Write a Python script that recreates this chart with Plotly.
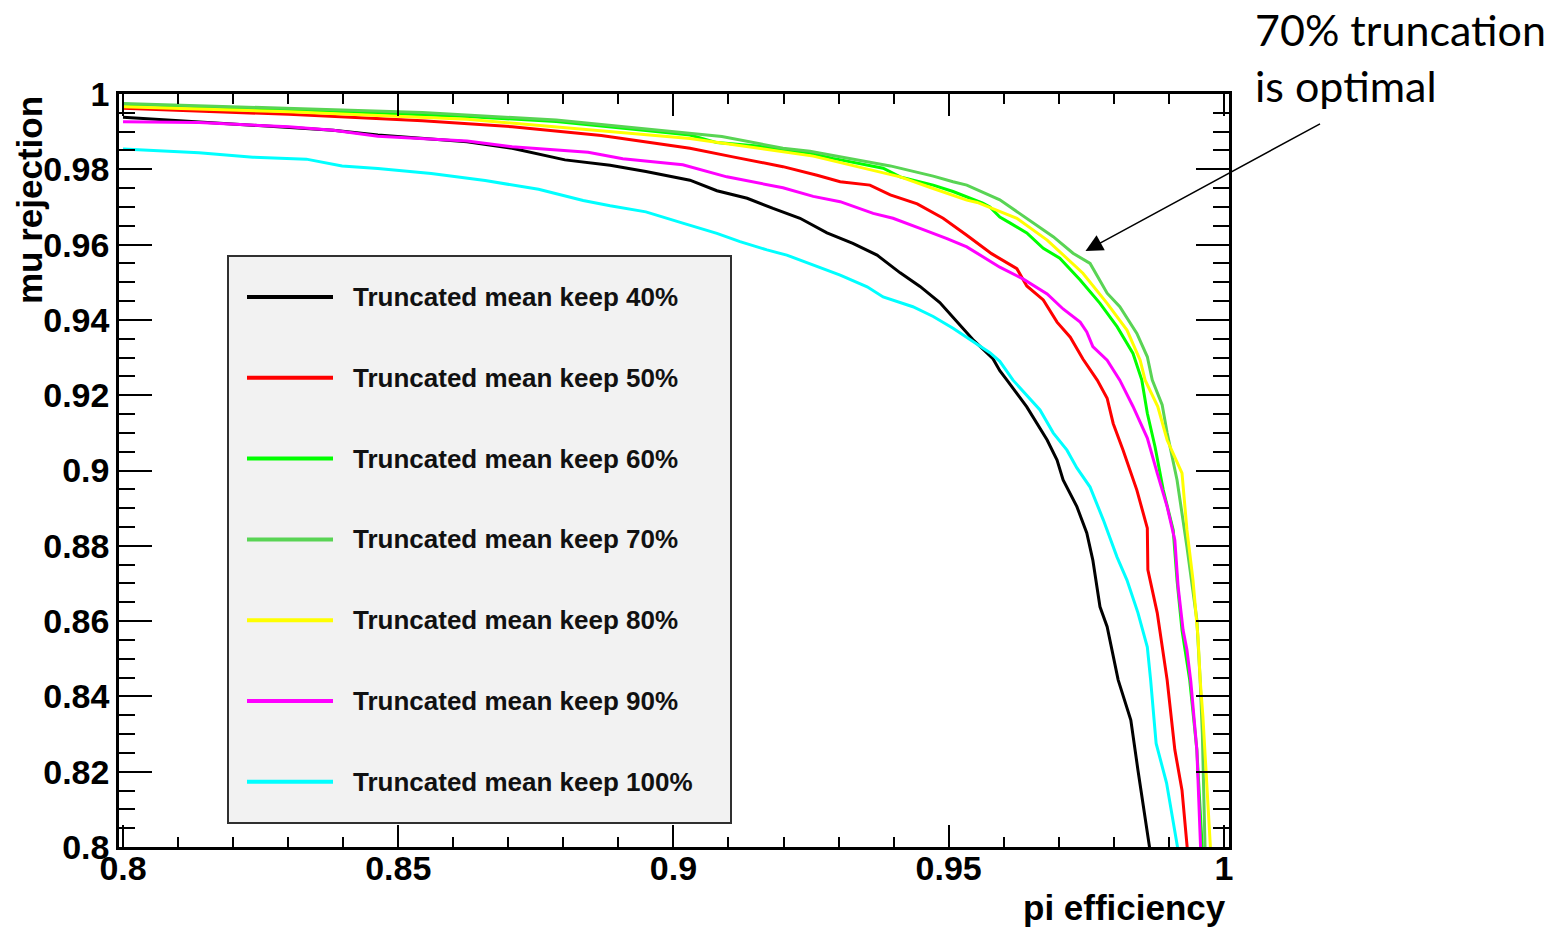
import plotly.graph_objects as go

# ---------------- data ----------------
x_40 = [0.8, 0.8220, 0.8382, 0.8463, 0.8625, 0.8707, 0.8803, 0.8885, 0.8950, 0.9030,
        0.9079, 0.9134, 0.9181, 0.9230, 0.9279, 0.9326, 0.9370, 0.9412, 0.9448, 0.9484,
        0.9515, 0.9544, 0.9580, 0.9593, 0.9606, 0.9642, 0.9679, 0.9697, 0.9708, 0.9733,
        0.9751, 0.9762, 0.9775, 0.9788, 0.9808, 0.9831, 0.9844, 0.9866]
y_40 = [0.9938, 0.9918, 0.9904, 0.9891, 0.9873, 0.9856, 0.9825, 0.9811, 0.9794, 0.9771,
        0.9743, 0.9723, 0.9696, 0.9670, 0.9631, 0.9603, 0.9572, 0.9525, 0.9489, 0.9446,
        0.9395, 0.9348, 0.9298, 0.9265, 0.9240, 0.9169, 0.9081, 0.9028, 0.8975, 0.8904,
        0.8834, 0.8762, 0.8638, 0.8585, 0.8444, 0.8337, 0.8204, 0.7990]

x_50 = [0.8, 0.8301, 0.8544, 0.8707, 0.8869, 0.8950, 0.9030, 0.9108, 0.9199, 0.9261,
        0.9303, 0.9357, 0.9394, 0.9443, 0.9490, 0.9533, 0.9578, 0.9624, 0.9642, 0.9672,
        0.9697, 0.9721, 0.9744, 0.9770, 0.9788, 0.9799, 0.9817, 0.9842, 0.9861, 0.9862,
        0.9879, 0.9897, 0.9902, 0.9911, 0.9924, 0.9934]
y_50 = [0.9962, 0.9946, 0.9929, 0.9913, 0.9890, 0.9873, 0.9856, 0.9833, 0.9807, 0.9784,
        0.9767, 0.9758, 0.9732, 0.9708, 0.9670, 0.9625, 0.9576, 0.9536, 0.9490, 0.9453,
        0.9394, 0.9354, 0.9296, 0.9240, 0.9192, 0.9125, 0.9054, 0.8948, 0.8847, 0.8736,
        0.8622, 0.8444, 0.8383, 0.8258, 0.8151, 0.7990]

x_60 = [0.8, 0.8301, 0.8625, 0.8787, 0.8950, 0.9030, 0.9079, 0.9152, 0.9199, 0.9248,
        0.9290, 0.9381, 0.9412, 0.9448, 0.9472, 0.9508, 0.9562, 0.9575, 0.9593, 0.9612,
        0.9642, 0.9672, 0.9702, 0.9739, 0.9775, 0.9806, 0.9835, 0.9851, 0.9861, 0.9875,
        0.9890, 0.9908, 0.9915, 0.9924, 0.9930, 0.9938, 0.9951, 0.9961]
y_60 = [0.9973, 0.9959, 0.9940, 0.9927, 0.9903, 0.9891, 0.9871, 0.9862, 0.9851, 0.9843,
        0.9829, 0.9803, 0.9780, 0.9767, 0.9758, 0.9741, 0.9710, 0.9700, 0.9673, 0.9657,
        0.9631, 0.9590, 0.9564, 0.9506, 0.9444, 0.9382, 0.9311, 0.9240, 0.9152, 0.9063,
        0.8948, 0.8842, 0.8709, 0.8576, 0.8523, 0.8444, 0.8258, 0.7990]

x_70 = [0.8, 0.8544, 0.8787, 0.9030, 0.9088, 0.9199, 0.9248, 0.9394, 0.9472, 0.9508,
        0.9533, 0.9593, 0.9642, 0.9690, 0.9726, 0.9757, 0.9788, 0.9811, 0.9842, 0.9861,
        0.9870, 0.9888, 0.9897, 0.9915, 0.9933, 0.9944, 0.9951, 0.9957, 0.9961, 0.9966]
y_70 = [0.9975, 0.9951, 0.9931, 0.9897, 0.9887, 0.9856, 0.9848, 0.9809, 0.9782, 0.9767,
        0.9758, 0.9719, 0.9670, 0.9621, 0.9577, 0.9550, 0.9471, 0.9435, 0.9364, 0.9302,
        0.9240, 0.9174, 0.9100, 0.8975, 0.8797, 0.8675, 0.8603, 0.8444, 0.8300, 0.7990]

x_80 = [0.8, 0.8301, 0.8625, 0.8869, 0.9030, 0.9254, 0.9412, 0.9472, 0.9533, 0.9552,
        0.9593, 0.9624, 0.9679, 0.9744, 0.9788, 0.9824, 0.9848, 0.9857, 0.9880, 0.9897,
        0.9924, 0.9933, 0.9944, 0.9953, 0.9957, 0.9962, 0.9976]
y_80 = [0.9966, 0.9953, 0.9933, 0.9903, 0.9882, 0.9835, 0.9780, 0.9749, 0.9718, 0.9712,
        0.9689, 0.9670, 0.9612, 0.9524, 0.9444, 0.9373, 0.9293, 0.9240, 0.9170, 0.9081,
        0.8993, 0.8842, 0.8709, 0.8559, 0.8444, 0.8346, 0.7990]

x_90 = [0.8, 0.8138, 0.8301, 0.8382, 0.8463, 0.8625, 0.8707, 0.8845, 0.8908, 0.9017,
        0.9097, 0.9199, 0.9254, 0.9303, 0.9363, 0.9399, 0.9448, 0.9497, 0.9533, 0.9593,
        0.9635, 0.9679, 0.9708, 0.9739, 0.9751, 0.9762, 0.9788, 0.9811, 0.9835, 0.9861,
        0.9879, 0.9897, 0.9911, 0.9917, 0.9926, 0.9933, 0.9940, 0.9951, 0.9958]
y_90 = [0.9926, 0.9924, 0.9913, 0.9904, 0.9888, 0.9875, 0.9860, 0.9845, 0.9828, 0.9812,
        0.9780, 0.9751, 0.9728, 0.9714, 0.9683, 0.9670, 0.9643, 0.9616, 0.9594, 0.9540,
        0.9509, 0.9469, 0.9429, 0.9394, 0.9368, 0.9329, 0.9293, 0.9240, 0.9170, 0.9086,
        0.8993, 0.8904, 0.8815, 0.8691, 0.8576, 0.8523, 0.8440, 0.8258, 0.7990]

x_100 = [0.8, 0.8138, 0.8236, 0.8333, 0.8398, 0.8463, 0.8560, 0.8658, 0.8755, 0.8836,
         0.8885, 0.8950, 0.9017, 0.9079, 0.9121, 0.9170, 0.9206, 0.9261, 0.9303, 0.9352,
         0.9381, 0.9435, 0.9472, 0.9508, 0.9544, 0.9575, 0.9593, 0.9617, 0.9666, 0.9690,
         0.9715, 0.9733, 0.9757, 0.9781, 0.9806, 0.9824, 0.9844, 0.9861, 0.9867, 0.9877,
         0.9896, 0.9917]
y_100 = [0.9854, 0.9844, 0.9832, 0.9827, 0.9809, 0.9802, 0.9789, 0.9770, 0.9747, 0.9717,
         0.9703, 0.9687, 0.9657, 0.9630, 0.9608, 0.9586, 0.9572, 0.9541, 0.9519, 0.9488,
         0.9461, 0.9435, 0.9409, 0.9378, 0.9342, 0.9313, 0.9290, 0.9240, 0.9161, 0.9100,
         0.9054, 0.9007, 0.8956, 0.8869, 0.8770, 0.8709, 0.8622, 0.8531, 0.8444, 0.8275,
         0.8170, 0.7990]

series_names = ["Truncated mean keep 40%", "Truncated mean keep 50%",
                "Truncated mean keep 60%", "Truncated mean keep 70%",
                "Truncated mean keep 80%", "Truncated mean keep 90%",
                "Truncated mean keep 100%"]
series_x = [x_40, x_50, x_60, x_70, x_80, x_90, x_100]
series_y = [y_40, y_50, y_60, y_70, y_80, y_90, y_100]
series_colors = ["#000000", "#ff0000", "#00ff00", "#59d454", "#ffff00", "#ff00ff", "#00ffff"]

x_tick_vals = [0.8, 0.85, 0.9, 0.95, 1.0]
x_tick_text = ["0.8", "0.85", "0.9", "0.95", "1"]
y_tick_vals = [0.8, 0.82, 0.84, 0.86, 0.88, 0.9, 0.92, 0.94, 0.96, 0.98, 1.0]
y_tick_text = ["0.8", "0.82", "0.84", "0.86", "0.88", "0.9", "0.92", "0.94", "0.96", "0.98", "1"]

x_title = "pi efficiency"
y_title = "mu rejection"
note_text = "70% truncation<br>is optimal"

# ---------------- figure ----------------
W, H = 1568, 928
ML, MR, MT, MB = 119, 339, 94, 81
PW, PH = W - ML - MR, H - MT - MB


def px_x(p):
    return (p - ML) / PW


def px_y(p):
    return (H - MB - p) / PH


fig = go.Figure()
for name, xs, ys, col in zip(series_names, series_x, series_y, series_colors):
    fig.add_trace(go.Scatter(x=xs, y=ys, mode="lines", name=name,
                             line=dict(color=col, width=3)))

tick_font = dict(family="Liberation Sans, Arial, sans-serif", size=34, color="black", weight="bold")

fig.update_layout(
    width=W, height=H,
    margin=dict(l=ML, r=MR, t=MT, b=MB, pad=0),
    paper_bgcolor="white", plot_bgcolor="white",
    showlegend=False,
    xaxis=dict(range=[0.79927, 1.00094], tickmode="array", tickvals=x_tick_vals,
               ticktext=x_tick_text, ticks="inside", ticklen=22, tickwidth=2,
               tickcolor="black", showline=True, linewidth=2.5, linecolor="black",
               mirror="ticks", showgrid=False, zeroline=False, tickfont=tick_font,
               ticklabelstandoff=-11,
               minor=dict(dtick=0.01, tick0=0.8, ticks="inside", ticklen=10,
                          tickwidth=2, tickcolor="black", showgrid=False)),
    yaxis=dict(range=[0.8, 1.0], tickmode="array", tickvals=y_tick_vals,
               ticktext=y_tick_text, ticks="inside", ticklen=33, tickwidth=2,
               tickcolor="black", showline=True, linewidth=2.5, linecolor="black",
               mirror="ticks", showgrid=False, zeroline=False, tickfont=tick_font,
               minor=dict(dtick=0.005, tick0=0.8, ticks="inside", ticklen=16,
                          tickwidth=2, tickcolor="black", showgrid=False)),
)

title_font = dict(family="Liberation Sans, Arial, sans-serif", size=35, color="black", weight="bold")
fig.add_annotation(text=y_title, xref="paper", yref="paper", x=px_x(29), y=1.0,
                   xanchor="center", yanchor="top", textangle=-90, showarrow=False,
                   font=title_font)
fig.add_annotation(text=x_title, xref="paper", yref="paper", x=px_x(1228), y=px_y(907),
                   xanchor="right", yanchor="middle", showarrow=False, font=title_font)

# annotation text and arrow
fig.add_annotation(text=note_text, xref="paper", yref="paper", x=px_x(1253), y=px_y(57),
                   xanchor="left", yanchor="middle", align="left", showarrow=False,
                   font=dict(family="Lato, Open Sans, sans-serif", size=43, color="black"))
fig.add_annotation(text="", x=0.97487, y=0.9583, xref="x", yref="y",
                   ax=236, ay=-128, showarrow=True, arrowhead=2, arrowsize=2.3,
                   arrowwidth=1.5, arrowcolor="black", standoff=0)

# legend box (drawn like the ROOT TLegend)
fig.add_shape(type="rect", xref="paper", yref="paper",
              x0=px_x(228), x1=px_x(731), y0=px_y(823), y1=px_y(256),
              fillcolor="#f2f2f2", line=dict(color="#303030", width=2), layer="above")
leg_font = dict(family="Liberation Sans, Arial, sans-serif", size=26, color="#111111", weight="bold")
for i, (name, col) in enumerate(zip(series_names, series_colors)):
    yy = px_y(297 + i * 80.8)
    fig.add_shape(type="line", xref="paper", yref="paper",
                  x0=px_x(247), x1=px_x(333), y0=yy, y1=yy,
                  line=dict(color=col, width=4), layer="above")
    fig.add_annotation(text=name, xref="paper", yref="paper", x=px_x(351), y=yy,
                       xanchor="left", yanchor="middle", showarrow=False, font=leg_font)

fig.write_html("out.html")
